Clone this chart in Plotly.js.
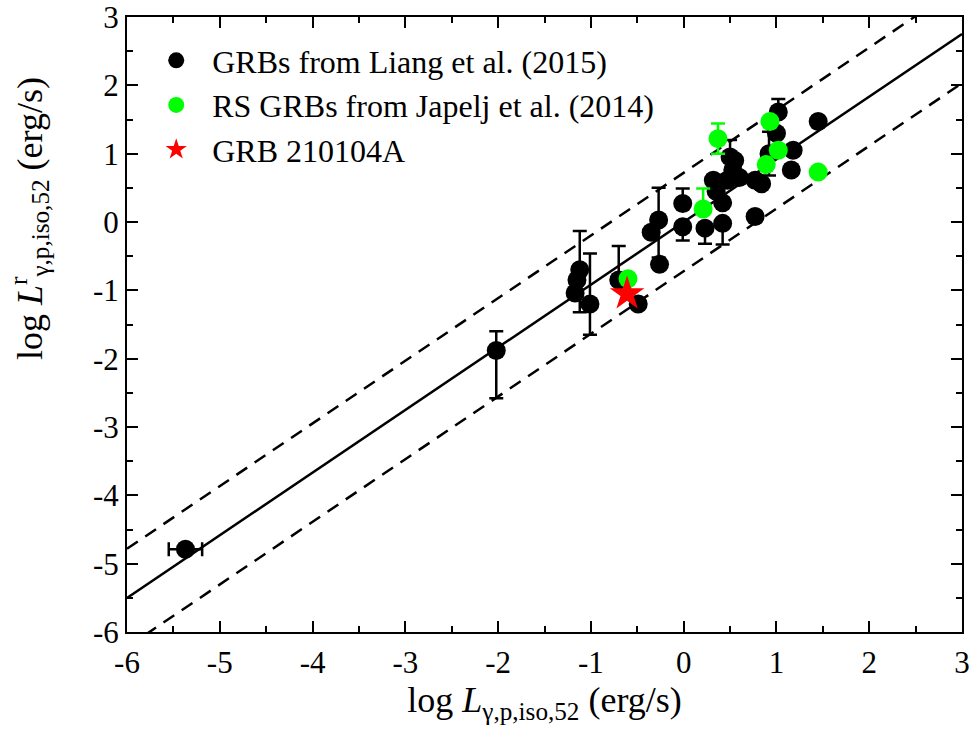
<!DOCTYPE html>
<html>
<head>
<meta charset="utf-8">
<script src="https://cdn.plot.ly/plotly-3.0.1.min.js"></script>
<style>html,body{margin:0;padding:0;background:#fff;}#chart{width:975px;height:744px;}</style>
</head>
<body>
<div id="chart"></div>
<script>
// GRBs from Liang et al. (2015)
const liangX = [-5.37, -2.02, -1.12, -1.15, -1.17, -1.01, -0.70, -0.49, -0.27, -0.35, -0.26, -0.01, -0.01, 0.23, 0.42, 0.42, 0.32, 0.47, 0.53, 0.50, 0.60, 0.77, 0.77, 0.84, 1.02, 1.00, 0.92, 1.18, 1.16, 1.45, 0.35, 0.55];
const liangY = [-4.79, -1.88, -0.70, -0.85, -1.04, -1.20, -0.85, -1.20, 0.03, -0.15, -0.62, 0.27, -0.07, -0.09, -0.02, 0.28, 0.61, 0.61, 0.76, 0.95, 0.65, 0.08, 0.61, 0.56, 1.61, 1.30, 1.00, 1.05, 0.76, 1.47, 0.45, 0.90];
const liangErrUp = [NaN, 0.28, 0.57, NaN, NaN, 0.74, 0.50, NaN, 0.47, NaN, NaN, 0.22, 0, 0, 0, NaN, NaN, NaN, NaN, 0.25, NaN, NaN, NaN, NaN, 0.19, NaN, 0.32, NaN, NaN, NaN, NaN, NaN];
const liangErrDown = [NaN, 0.70, 0.62, NaN, NaN, 0.45, 0, NaN, 0.55, NaN, NaN, 0, 0.20, 0.23, 0.31, NaN, NaN, NaN, NaN, 0.25, NaN, NaN, NaN, NaN, 0, NaN, 0.32, NaN, NaN, NaN, NaN, NaN];
const liangErrX = [0.18, NaN, NaN, NaN, NaN, NaN, NaN, NaN, NaN, NaN, NaN, NaN, NaN, NaN, NaN, NaN, NaN, NaN, NaN, NaN, NaN, NaN, NaN, NaN, NaN, NaN, NaN, NaN, NaN, NaN, NaN, NaN];

// RS GRBs from Japelj et al. (2014)
const japeljX = [0.37, 0.21, -0.60, 0.93, 1.02, 0.89, 1.45];
const japeljY = [1.22, 0.19, -0.83, 1.47, 1.05, 0.84, 0.73];
const japeljErrUp = [0.22, 0.30, NaN, NaN, NaN, NaN, NaN];
const japeljErrDown = [0.22, 0, NaN, NaN, NaN, NaN, NaN];

// GRB 210104A
const grbX = [-0.61];
const grbY = [-1.05];

// Best fit and 1-sigma band
const fitSlope = 0.917;
const fitIntercept = 0.0;
const fitSigma = 0.72;
const fitRange = [-6, 3];

// Ticks
const xTickVals = [-6, -5, -4, -3, -2, -1, 0, 1, 2, 3];
const xTickText = ['-6', '-5', '-4', '-3', '-2', '-1', '0', '1', '2', '3'];
const yTickVals = [-6, -5, -4, -3, -2, -1, 0, 1, 2, 3];
const yTickText = ['-6', '-5', '-4', '-3', '-2', '-1', '0', '1', '2', '3'];

const xTitle = 'log <i>L</i><sub>γ,p,iso,52</sub> (erg/s)';
const yTitle = 'log <i>L</i><sup>r</sup><sub>γ,p,iso,52</sub> (erg/s)';

const lineY = (off) => fitRange.map(x => fitSlope * x + fitIntercept + off);
const minorVals = [];
for (let v = -6; v <= 3; v += 0.5) { if (v % 1 !== 0) minorVals.push(v); }

const FONT = 'Liberation Serif, Times New Roman, serif';
const NB = '\u00a0\u00a0';

const traces = [
  {x: fitRange, y: lineY(0), mode: 'lines', line: {color: '#000', width: 2.5}, showlegend: false, hoverinfo: 'skip'},
  {x: fitRange, y: lineY(fitSigma), mode: 'lines', line: {color: '#000', width: 2.5, dash: '13px,9px'}, showlegend: false, hoverinfo: 'skip'},
  {x: fitRange, y: lineY(-fitSigma), mode: 'lines', line: {color: '#000', width: 2.5, dash: '13px,9px'}, showlegend: false, hoverinfo: 'skip'},
  {
    x: liangX, y: liangY, mode: 'markers', name: NB + 'GRBs from Liang et al. (2015)',
    marker: {color: '#000', size: 19},
    error_y: {type: 'data', symmetric: false, array: liangErrUp, arrayminus: liangErrDown, color: '#000', thickness: 2.5, width: 7},
    error_x: {type: 'data', array: liangErrX, color: '#000', thickness: 2.5, width: 7}
  },
  {
    x: japeljX, y: japeljY, mode: 'markers', name: NB + 'RS GRBs from Japelj et al. (2014)',
    marker: {color: '#00ff00', size: 19},
    error_y: {type: 'data', symmetric: false, array: japeljErrUp, arrayminus: japeljErrDown, color: '#00ff00', thickness: 2.5, width: 7}
  },
  {
    x: grbX, y: grbY, mode: 'markers', name: NB + 'GRB 210104A',
    marker: {color: '#ff0000', size: 26, symbol: 'star'}
  }
];

const axisCommon = {
  showline: true, linecolor: '#000', linewidth: 2, mirror: 'allticks',
  ticks: 'inside', ticklen: 11, tickwidth: 2, tickcolor: '#000',
  showgrid: false, zeroline: false, tickmode: 'array', ticklabeloverflow: 'allow',
  tickfont: {family: FONT, size: 31, color: '#000'},
  minor: {tickmode: 'array', tickvals: minorVals, ticks: 'inside', ticklen: 6, tickwidth: 2, tickcolor: '#000', showgrid: false}
};

const layout = {
  width: 975, height: 744,
  margin: {l: 127, r: 13, t: 17, b: 112},
  paper_bgcolor: '#fff', plot_bgcolor: '#fff',
  showlegend: true,
  legend: {x: 0.035, y: 0.974, xanchor: 'left', yanchor: 'top', bgcolor: 'rgba(0,0,0,0)',
           font: {family: FONT, size: 32, color: '#000'}, itemsizing: 'trace', tracegroupgap: 0},
  xaxis: Object.assign({}, axisCommon, {
    range: [-6, 3], tickvals: xTickVals, ticktext: xTickText, ticklabelstandoff: 2,
    title: {text: xTitle, font: {family: FONT, size: 36, color: '#000'}, standoff: 4}
  }),
  yaxis: Object.assign({}, axisCommon, {
    range: [-6, 3], tickvals: yTickVals, ticktext: yTickText,
    title: {text: ''}
  }),
  annotations: [{
    text: yTitle, textangle: -90, xref: 'paper', yref: 'paper', x: -0.117, y: 0.672,
    xanchor: 'center', yanchor: 'middle', showarrow: false,
    font: {family: FONT, size: 36, color: '#000'}
  }]
};

Plotly.newPlot('chart', traces, layout, {staticPlot: true});
</script>
</body>
</html>
